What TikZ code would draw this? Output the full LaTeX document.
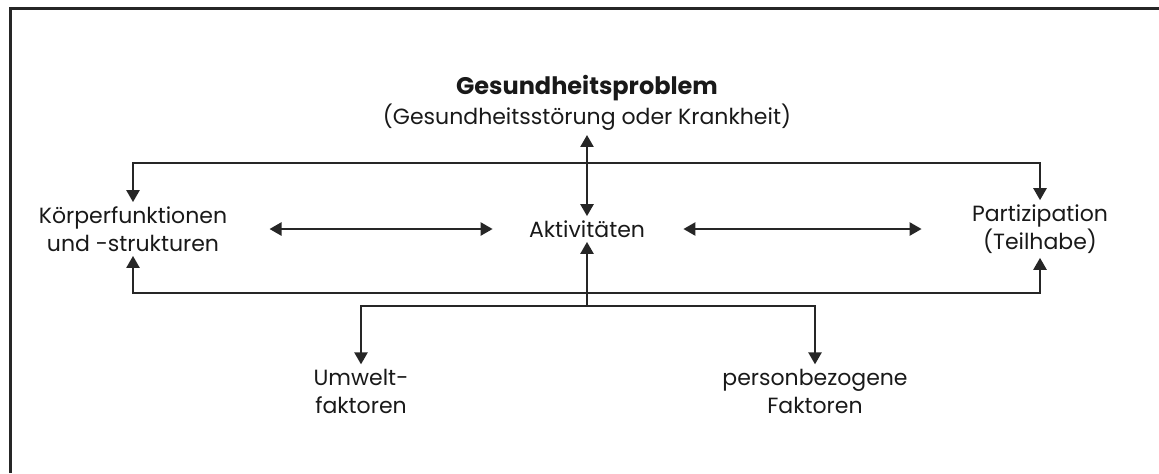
\documentclass[tikz,border=0pt]{standalone}
\usepackage{fontspec}
\setmainfont{Poppins}
\usepackage{tikz}
\usetikzlibrary{arrows.meta}
\tikzset{
	% Text boxes of the model and the two kinds of links
	text node/.style={align=center,inner sep=2,text=black!90,font=\fontsize{11}{14}\selectfont},
	link/.style={line width=1.2pt,draw=black!85,-{Triangle[length=6pt,width=6.5pt]}},
	both link/.style={line width=1.2pt,draw=black!85,{Triangle[length=6pt,width=6.5pt]}-{Triangle[length=6pt,width=6.5pt]}}
}
\begin{document}
\begin{tikzpicture}[x=0.5pt,y=-0.5pt]
	\useasboundingbox (0,0) rectangle (1159,473);
	% frame, cut off at right and bottom
	\draw[line width=1.5pt,black!85] (10,473) -- (10,8) -- (1159,8);
	
	\node(gp)[text node,font=\fontsize{11}{15}\selectfont] at (587,103) {{\fontsize{12}{15}\selectfont\textbf{Gesundheitsproblem}}\\(Gesundheitsstörung oder Krankheit)};
	\node(kf)[text node] at (133,229) {Körperfunktionen\\und -strukturen};
	\node(akt)[text node] at (587,229) {Aktivitäten};
	\node(par)[text node] at (1040,229) {Partizipation\\(Teilhabe)};
	\node(uf)[text node] at (361,391) {Umwelt-\\faktoren};
	\node(pf)[text node] at (815,391) {personbezogene\\Faktoren};
	
	% branch points on the lines
	\coordinate(top) at (587,163);
	\coordinate(bot) at (587,293);
	\coordinate(fork) at (587,306);
	
	\draw[both link] (gp) -- (akt);
	\draw[link] (top) -| (kf);
	\draw[link] (top) -| (par);
	\draw[both link,shorten <=19pt,shorten >=16pt] (kf) -- (akt);
	\draw[both link,shorten <=17pt,shorten >=23pt] (akt) -- (par);
	\draw[link] (bot) -| (kf);
	\draw[link] (bot) -| (par);
	\draw[link] (fork) -- (akt);
	\draw[link] (fork) -| (uf);
	\draw[link] (fork) -| (pf);
\end{tikzpicture}
\end{document}
